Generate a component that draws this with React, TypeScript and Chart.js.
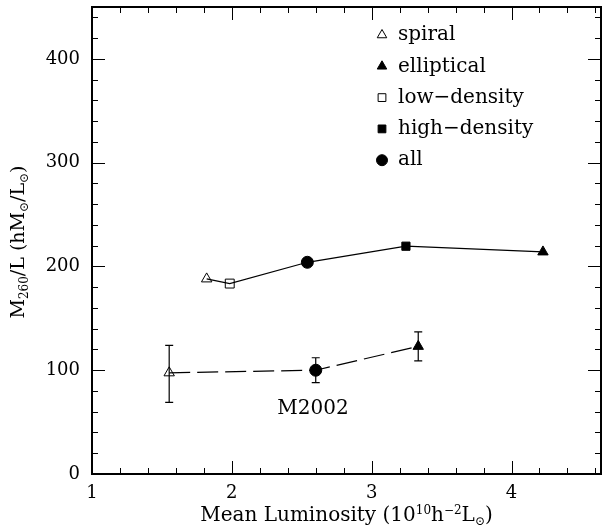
import React, { useEffect, useRef } from 'react';
import { Chart, registerables } from 'chart.js';

Chart.register(...registerables);

// ---- data ----
const upperX = [1.82, 1.985, 2.54, 3.245, 4.225];
const upperY = [188, 183.5, 204, 219.5, 214];
const upperStyles = ['triangle', 'rect', 'circle', 'rect', 'triangle'];
const upperFilled = [false, false, true, true, true];

const lowerX = [1.552, 2.6, 3.333];
const lowerY = [97.5, 100, 123];
const lowerErrLow = [69, 88, 109];
const lowerErrHigh = [124, 112, 137];
const lowerStyles = ['triangle', 'circle', 'triangle'];
const lowerFilled = [false, true, true];

const legendLabels = ['spiral', 'elliptical', 'low\u2212density', 'high\u2212density', 'all'];
const legendStyles = ['triangle', 'triangle', 'rect', 'rect', 'circle'];
const legendFilled = [false, true, false, true, true];

const xTicks = [1, 2, 3, 4];
const yTicks = [0, 100, 200, 300, 400];
const xRange = [1, 4.64];
const yRange = [0, 450];

const annotationText = 'M2002';
const annotationPos = [2.58, 63];

const FONT = "'DejaVu Serif', serif";

function radiusFor(style: string, filled: boolean) {
  if (style === 'circle') return 6;
  if (style === 'rect') return filled ? 5.8 : 6.3;
  return 6;
}

function drawShape(ctx: CanvasRenderingContext2D, style: string, filled: boolean, x: number, y: number, r: number) {
  ctx.beginPath();
  if (style === 'circle') {
    ctx.arc(x, y, r, 0, Math.PI * 2);
  } else if (style === 'rect') {
    const s = Math.SQRT1_2 * r;
    ctx.rect(x - s, y - s, 2 * s, 2 * s);
  } else {
    for (let i = 0; i < 3; i++) {
      const a = (i * 2 * Math.PI) / 3;
      const px = x + Math.sin(a) * r;
      const py = y - Math.cos(a) * r;
      if (i === 0) ctx.moveTo(px, py);
      else ctx.lineTo(px, py);
    }
    ctx.closePath();
  }
  if (filled) {
    ctx.fillStyle = '#000';
    ctx.fill();
  }
  ctx.strokeStyle = '#000';
  ctx.lineWidth = 1;
  ctx.stroke();
}

type Seg = { t: string; size: number; dy: number };

function drawRich(ctx: CanvasRenderingContext2D, segs: Seg[], cx: number, baseY: number) {
  let total = 0;
  const widths = segs.map((s) => {
    ctx.font = `${s.size}px ${FONT}`;
    const w = ctx.measureText(s.t).width;
    total += w;
    return w;
  });
  let x = cx - total / 2;
  ctx.textAlign = 'left';
  ctx.textBaseline = 'alphabetic';
  ctx.fillStyle = '#000';
  segs.forEach((s, i) => {
    ctx.font = `${s.size}px ${FONT}`;
    ctx.fillText(s.t, x, baseY + s.dy);
    x += widths[i];
  });
}

const framePlugin = {
  id: 'framePlugin',
  afterDatasetsDraw(chart: any) {
    const { ctx, scales } = chart;
    const x = scales.x;
    const y = scales.y;
    ctx.save();
    ctx.strokeStyle = '#000';
    ctx.lineWidth = 1.2;
    lowerX.forEach((vx, i) => {
      const px = x.getPixelForValue(vx);
      const pLo = y.getPixelForValue(lowerErrLow[i]);
      const pHi = y.getPixelForValue(lowerErrHigh[i]);
      ctx.beginPath();
      ctx.moveTo(px, pLo);
      ctx.lineTo(px, pHi);
      ctx.moveTo(px - 4, pLo);
      ctx.lineTo(px + 4, pLo);
      ctx.moveTo(px - 4, pHi);
      ctx.lineTo(px + 4, pHi);
      ctx.stroke();
    });
    ctx.restore();
  },
  afterDraw(chart: any) {
    const { ctx, chartArea, scales } = chart;
    const { left, right, top, bottom } = chartArea;
    const x = scales.x;
    const y = scales.y;
    ctx.save();
    ctx.strokeStyle = '#000';
    ctx.lineWidth = 1;
    for (let k = 0; ; k++) {
      const v = xRange[0] + k * 0.2;
      if (v > xRange[1] + 1e-9) break;
      const major = Math.abs(v - Math.round(v)) < 1e-6;
      const len = major ? 13 : 6;
      const px = Math.round(x.getPixelForValue(v)) + 0.5;
      ctx.beginPath();
      ctx.moveTo(px, bottom);
      ctx.lineTo(px, bottom - len);
      ctx.moveTo(px, top);
      ctx.lineTo(px, top + len);
      ctx.stroke();
    }
    for (let v = yRange[0]; v <= yRange[1]; v += 20) {
      const major = v % 100 === 0;
      const len = major ? 13 : 6;
      const py = Math.round(y.getPixelForValue(v)) + 0.5;
      ctx.beginPath();
      ctx.moveTo(left, py);
      ctx.lineTo(left + len, py);
      ctx.moveTo(right, py);
      ctx.lineTo(right - len, py);
      ctx.stroke();
    }
    ctx.lineWidth = 2;
    ctx.strokeRect(left, top, right - left, bottom - top);

    // legend
    const lx = 382;
    const tx = 398;
    legendLabels.forEach((lab, i) => {
      const ly = 35 + i * 31.3;
      drawShape(ctx, legendStyles[i], legendFilled[i], lx, ly, 5.5);
      ctx.font = `20px ${FONT}`;
      ctx.fillStyle = '#000';
      ctx.textAlign = 'left';
      ctx.textBaseline = 'middle';
      ctx.fillText(lab, tx, ly);
    });

    // annotation
    ctx.font = `20px ${FONT}`;
    ctx.textAlign = 'center';
    ctx.textBaseline = 'middle';
    ctx.fillText(annotationText, x.getPixelForValue(annotationPos[0]), y.getPixelForValue(annotationPos[1]));

    // x title
    drawRich(
      ctx,
      [
        { t: 'Mean Luminosity (10', size: 20, dy: 0 },
        { t: '10', size: 12, dy: -7 },
        { t: 'h', size: 20, dy: 0 },
        { t: '\u22122', size: 12, dy: -7 },
        { t: 'L', size: 20, dy: 0 },
        { t: '\u2299', size: 12, dy: 4 },
        { t: ')', size: 20, dy: 0 },
      ],
      (left + right) / 2,
      521
    );

    // y title
    ctx.save();
    ctx.translate(24, 242);
    ctx.rotate(-Math.PI / 2);
    drawRich(
      ctx,
      [
        { t: 'M', size: 19, dy: 0 },
        { t: '260', size: 12, dy: 4 },
        { t: '/L (hM', size: 19, dy: 0 },
        { t: '\u2299', size: 12, dy: 4 },
        { t: '/L', size: 19, dy: 0 },
        { t: '\u2299', size: 12, dy: 4 },
        { t: ')', size: 19, dy: 0 },
      ],
      0,
      0
    );
    ctx.restore();
    ctx.restore();
  },
};

export default function App() {
  const ref = useRef<HTMLCanvasElement | null>(null);
  useEffect(() => {
    if (!ref.current) return;
    const tickFont = { family: FONT, size: 18 };
    const chart = new Chart(ref.current, {
      type: 'scatter',
      data: {
        datasets: [
          {
            data: upperX.map((v, i) => ({ x: v, y: upperY[i] })),
            showLine: true,
            borderColor: '#000',
            borderWidth: 1.2,
            pointStyle: upperStyles as any,
            pointRadius: upperStyles.map((s, i) => radiusFor(s, upperFilled[i])),
            pointBackgroundColor: upperFilled.map((f) => (f ? '#000' : 'rgba(0,0,0,0)')),
            pointBorderColor: '#000',
            pointBorderWidth: 1,
          },
          {
            data: lowerX.map((v, i) => ({ x: v, y: lowerY[i] })),
            showLine: true,
            borderColor: '#000',
            borderWidth: 1.2,
            borderDash: [21, 7],
            pointStyle: lowerStyles as any,
            pointRadius: lowerStyles.map((s, i) => radiusFor(s, lowerFilled[i])),
            pointBackgroundColor: lowerFilled.map((f) => (f ? '#000' : 'rgba(0,0,0,0)')),
            pointBorderColor: '#000',
            pointBorderWidth: 1,
          },
        ],
      },
      options: {
        responsive: false,
        animation: false,
        layout: { padding: { top: 4, right: 10, left: 0, bottom: 0 } },
        plugins: { legend: { display: false }, tooltip: { enabled: false } },
        scales: {
          x: {
            type: 'linear',
            min: xRange[0],
            max: xRange[1],
            afterBuildTicks: (s: any) => {
              s.ticks = xTicks.map((v) => ({ value: v }));
            },
            afterFit: (s: any) => {
              s.height = 55;
              s.paddingLeft = 0;
              s.paddingRight = 0;
            },
            grid: { display: false, drawTicks: false },
            border: { display: false },
            ticks: { font: tickFont, color: '#000', padding: 9, maxRotation: 0, autoSkip: false },
          },
          y: {
            type: 'linear',
            min: yRange[0],
            max: yRange[1],
            afterBuildTicks: (s: any) => {
              s.ticks = yTicks.map((v) => ({ value: v }));
            },
            afterFit: (s: any) => {
              s.width = 92;
              s.paddingTop = 0;
              s.paddingBottom = 0;
            },
            grid: { display: false, drawTicks: false },
            border: { display: false },
            ticks: { font: tickFont, color: '#000', padding: 12, autoSkip: false },
          },
        },
      },
      plugins: [framePlugin],
    });
    return () => chart.destroy();
  }, []);
  return (
    <div style={{ position: 'absolute', left: 0, top: 0, width: 611, height: 529, background: '#fff' }}>
      <canvas ref={ref} width={611} height={529} style={{ display: 'block' }} />
    </div>
  );
}
